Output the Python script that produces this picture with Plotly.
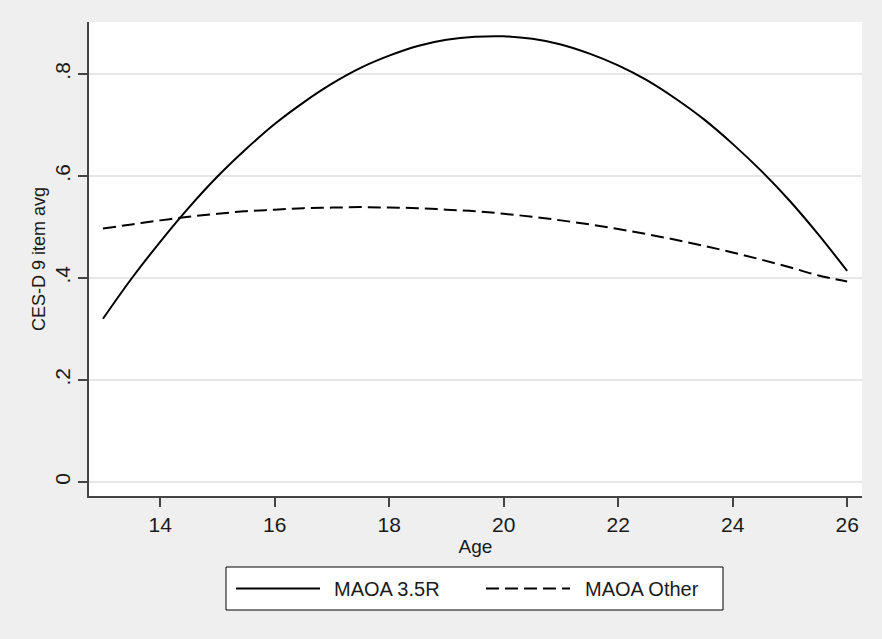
import plotly.graph_objects as go

# Data
age = [13, 13.5, 14, 14.5, 15, 15.5, 16, 16.5, 17, 17.5, 18, 18.5, 19, 19.5,
       20, 20.5, 21, 21.5, 22, 22.5, 23, 23.5, 24, 24.5, 25, 25.5, 26]
maoa_35r = [0.320, 0.399, 0.471, 0.538, 0.599, 0.653, 0.702, 0.744, 0.781, 0.812,
            0.836, 0.855, 0.867, 0.873, 0.874, 0.869, 0.858, 0.840, 0.817, 0.788,
            0.752, 0.711, 0.663, 0.610, 0.551, 0.485, 0.414]
maoa_other = [0.497, 0.505, 0.513, 0.520, 0.526, 0.531, 0.534, 0.537, 0.538, 0.539,
              0.538, 0.537, 0.534, 0.531, 0.526, 0.520, 0.513, 0.505, 0.496, 0.486,
              0.475, 0.463, 0.450, 0.436, 0.421, 0.405, 0.393]
series_names = ["MAOA 3.5R", "MAOA Other"]
x_ticks = [14, 16, 18, 20, 22, 24, 26]
y_ticks = [0, 0.2, 0.4, 0.6, 0.8]
y_tick_labels = ["0", ".2", ".4", ".6", ".8"]

FONT = "Liberation Sans, Arial, sans-serif"
TXT = "#1a1a1a"
fig = go.Figure()
fig.add_trace(go.Scatter(x=age, y=maoa_35r, mode="lines", name=series_names[0],
                         line=dict(color="black", width=2, shape="spline"),
                         showlegend=False))
fig.add_trace(go.Scatter(x=age, y=maoa_other, mode="lines", name=series_names[1],
                         line=dict(color="black", width=2, dash="13px,6px", shape="spline"),
                         showlegend=False))

# manual legend (paper coords)
W, H = 882, 639
ml, mr, mt, mb = 89, 20, 22, 143
pw, ph = W - ml - mr, H - mt - mb
def px(xp):
    return (xp - ml) / pw
def py(yp):
    return (H - mb - yp) / ph

shapes = [
    dict(type="rect", xref="paper", yref="paper", x0=px(226), x1=px(723), y0=py(610), y1=py(567),
         line=dict(color="black", width=1), fillcolor="white", layer="above"),
    dict(type="line", xref="paper", yref="paper", x0=px(236), x1=px(320), y0=py(588.5), y1=py(588.5),
         line=dict(color="black", width=2)),
    dict(type="line", xref="paper", yref="paper", x0=px(486), x1=px(570), y0=py(588.5), y1=py(588.5),
         line=dict(color="black", width=2, dash="13px,6px")),
]
annotations = [
    dict(xref="paper", yref="paper", x=px(332), y=py(588.5), text=series_names[0], showarrow=False,
         xanchor="left", yanchor="middle", font=dict(family=FONT, size=20, color=TXT)),
    dict(xref="paper", yref="paper", x=px(583), y=py(588.5), text=series_names[1], showarrow=False,
         xanchor="left", yanchor="middle", font=dict(family=FONT, size=20, color=TXT)),
]

fig.update_layout(
    width=W, height=H,
    margin=dict(l=ml, r=mr, t=mt, b=mb),
    paper_bgcolor="#efefef", plot_bgcolor="white",
    font=dict(family=FONT, size=20, color=TXT),
    shapes=shapes, annotations=annotations,
    xaxis=dict(range=[12.756, 26.26], tickvals=x_ticks, ticks="outside", ticklen=9,
               tickcolor="#444", tickwidth=1.5, showgrid=False, zeroline=False,
               showline=True, linecolor="#444", linewidth=1.5,
               tickfont=dict(size=21),
               title=dict(text="Age", standoff=0, font=dict(size=19))),
    yaxis=dict(range=[-0.0275, 0.902], tickvals=y_ticks, ticktext=y_tick_labels,
               tickangle=-90, ticks="outside", ticklen=9, tickcolor="#444", tickwidth=1.5,
               showgrid=True, gridcolor="#e6e6e6", gridwidth=1.5, zeroline=False,
               showline=True, linecolor="#444", linewidth=1.5,
               tickfont=dict(size=21),
               title=dict(text="CES-D 9 item avg", standoff=1, font=dict(size=18))),
)
fig.write_html("out.html", config={"displayModeBar": False},
               post_script="document.body.style.margin='0';document.body.style.background='#efefef';")
